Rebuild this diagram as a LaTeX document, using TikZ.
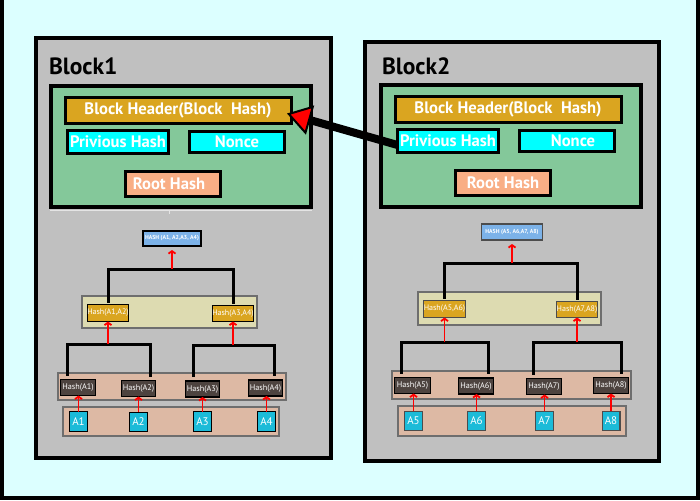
\documentclass[tikz,border=0pt]{standalone}
\usepackage{fontspec}
\setmainfont{PT Sans}
\usetikzlibrary{arrows.meta,calc}
\definecolor{bgc}{RGB}{220,255,255}
\definecolor{blockgray}{RGB}{192,192,192}
\definecolor{hdrgreen}{RGB}{132,200,154}
\definecolor{gold}{RGB}{218,165,32}
\definecolor{fieldcyan}{RGB}{0,255,255}
\definecolor{rootsalmon}{RGB}{249,174,133}
\definecolor{topblue}{RGB}{124,178,232}
\definecolor{khaki}{RGB}{221,219,177}
\definecolor{peach}{RGB}{221,185,164}
\definecolor{bandline}{RGB}{110,110,110}
\definecolor{darkhash}{RGB}{77,67,63}
\definecolor{leafcyan}{RGB}{28,187,216}
\definecolor{faint}{RGB}{228,228,228}
\begin{document}
\begin{tikzpicture}[x=1pt,y=-1pt,
  box/.style={inner sep=0pt, outer sep=0pt, align=center},
  blockbox/.style={box, draw=black, line width=4pt, fill=blockgray},
  hdrbox/.style={box, draw=black, line width=4pt, fill=hdrgreen},
  fieldbox/.style={box, draw=black, line width=3pt, text=white, font=\fontsize{16.6}{18}\selectfont\bfseries},
  title/.style={box, anchor=base west, font=\fontsize{23.5}{26}\selectfont\bfseries},
  band/.style={box, draw=bandline, line width=1.5pt},
  tophash/.style={box, draw=black, line width=1.5pt, fill=topblue, text=white, font=\fontsize{5.8}{6}\selectfont\bfseries},
  pairhash/.style={box, draw=black, line width=1.2pt, fill=gold, text=white, font=\fontsize{8}{9}\selectfont},
  leafhash/.style={box, draw=black, line width=1.2pt, fill=darkhash, text=white, font=\fontsize{8.2}{9}\selectfont, minimum height=16pt},
  leaf/.style={box, draw=black, line width=1.2pt, fill=leafcyan, text=white, font=\fontsize{11}{12}\selectfont, minimum width=17.8pt, minimum height=19.5pt},
  bracket/.style={draw=black, line width=3pt},
  redarr/.style={draw=red, line width=1.8pt, -{Straight Barb[length=2.5pt,width=7pt]}},
]
\useasboundingbox (0,0) rectangle (700,500);
\fill[bgc] (0,0) rectangle (700,500);
\draw[line width=4pt] (2,0) -- (2,498) -- (698,498) -- (698,0);

% ---------- blocks ----------
\node[blockbox, minimum width=295pt, minimum height=420pt] (b1) at (183.5,248) {};
\node[blockbox, minimum width=294pt, minimum height=419pt] (b2) at (512,251.5) {};
\node[title] (t1lab) at (49,75) {Block1};
\node[title] (t2lab) at (382,75) {Block2};

% ---------- headers ----------
\node[hdrbox, minimum width=260pt, minimum height=121pt] (g1) at (181,146.5) {};
\node[hdrbox, minimum width=260pt, minimum height=122pt] (g2) at (511,146) {};
\draw[faint, line width=1pt] (50,210) -- (312,210);
\draw[faint, line width=1pt] (169,210) -- (169,214);

\node[fieldbox, fill=gold, minimum width=226pt, minimum height=25pt] (h1) at (178,110.5) {Block Header(Block~ Hash)};
\node[fieldbox, fill=fieldcyan, minimum width=101pt, minimum height=23pt] (p1) at (118,142) {Privious Hash};
\node[fieldbox, fill=fieldcyan, minimum width=95pt, minimum height=21pt] (n1) at (237,142) {Nonce};
\node[fieldbox, fill=rootsalmon, minimum width=95pt, minimum height=25pt] (r1) at (173,184) {Root Hash\hspace*{8pt}};

\node[fieldbox, fill=gold, minimum width=226pt, minimum height=25pt] (h2) at (508,109.5) {Block Header(Block~ Hash)};
\node[fieldbox, fill=fieldcyan, minimum width=101pt, minimum height=23pt] (p2) at (448,141) {Privious Hash};
\node[fieldbox, fill=fieldcyan, minimum width=95pt, minimum height=21pt] (n2) at (567,141) {\hspace*{12pt}Nonce};
\node[fieldbox, fill=rootsalmon, minimum width=95pt, minimum height=25pt] (r2) at (503,183) {Root Hash};

% ---------- Block1 Merkle tree ----------
\node[band, fill=khaki, minimum width=175pt, minimum height=32pt] (k1) at (169.5,312) {};
\node[band, fill=peach, minimum width=228pt, minimum height=27pt] (q1) at (172,386.5) {};
\node[band, fill=peach, minimum width=216pt, minimum height=29pt] (l1) at (171,421.5) {};

\node[tophash, minimum width=58pt, minimum height=15pt] (top1) at (172,238.5) {HASH (A1, A2,A3, A4)};
\node[pairhash, minimum width=39pt, minimum height=17pt] (h12) at (108,313) {Hash(A1,A2)};
\node[pairhash, minimum width=39pt, minimum height=16pt] (h34) at (233,313.5) {Hash(A3,A4)};
\node[leafhash, minimum width=35pt] (ha1) at (78,387.5) {Hash(A1)};
\node[leafhash, minimum width=34pt] (ha2) at (138.5,388.5) {Hash(A2)};
\node[leafhash, minimum width=34pt] (ha3) at (202.5,389) {Hash(A3)};
\node[leafhash, minimum width=34pt] (ha4) at (265.5,388) {Hash(A4)};
\node[leaf] (a1) at (78.5,421.5) {A1};
\node[leaf] (a2) at (138.5,422) {A2};
\node[leaf] (a3) at (202.5,421.5) {A3};
\node[leaf] (a4) at (266.5,421.5) {A4};

\coordinate (j0) at (170,269);
\coordinate (j1) at (109,344);
\coordinate (j2) at (234,345);
\draw[bracket] ([yshift=2pt]h12.north) |- (j0) -| ([yshift=2pt]h34.north);
\draw[bracket] ([shift={(7,-4)}]ha1.north west) |- (j1) -| ([shift={(-5,-4)}]ha2.north east);
\draw[bracket] ([shift={(8,-4)}]ha3.north west) |- (j2) -| ([shift={(-8,-4)}]ha4.north east);
\draw[redarr, shorten >=4pt] (j0 -| top1.south) -- (top1.south);
\draw[redarr] (j1 -| h12.south) -- (h12.south);
\draw[redarr] (j2 -| h34.south) -- (h34.south);
\foreach \i in {1,2,3,4} {
  \draw[redarr] (a\i.north) -- (a\i.north |- ha\i.south);
}

% ---------- Block2 Merkle tree ----------
\node[band, fill=khaki, minimum width=183pt, minimum height=33pt] (k2) at (509.5,308.5) {};
\node[band, fill=peach, minimum width=239pt, minimum height=28pt] (q2) at (511.5,385) {};
\node[band, fill=peach, minimum width=228pt, minimum height=30pt] (l2) at (512,421) {};

\node[tophash, draw=black!70, minimum width=61pt, minimum height=16pt] (top2) at (512,232) {HASH (A5, A6,A7, A8)};
\node[pairhash, draw=black!70, minimum width=42pt, minimum height=17pt] (h56) at (444.5,309) {Hash(A5,A6)};
\node[pairhash, draw=black!70, minimum width=41pt, minimum height=16pt] (h78) at (577,309.5) {Hash(A7,A8)};
\node[leafhash, minimum width=36pt] (ha5) at (412.5,385.5) {Hash(A5)};
\node[leafhash, minimum width=35pt] (ha6) at (476,386) {Hash(A6)};
\node[leafhash, minimum width=35pt] (ha7) at (544,386.5) {Hash(A7)};
\node[leafhash, minimum width=35pt] (ha8) at (611,385.5) {Hash(A8)};
\node[leaf, draw=black!70] (a5) at (413.5,421) {A5};
\node[leaf, draw=black!70] (a6) at (476.5,421) {A6};
\node[leaf, draw=black!70] (a7) at (544.5,421) {A7};
\node[leaf, draw=black!70] (a8) at (611,421) {A8};

\coordinate (k0) at (510,263);
\coordinate (k1j) at (445,342);
\coordinate (k2j) at (577,342);
\draw[bracket] ([yshift=2pt]h56.north) |- (k0) -| ([yshift=2pt]h78.north);
\draw[bracket] ([shift={(7,-4)}]ha5.north west) |- (k1j) -| ([shift={(-5,-4)}]ha6.north east);
\draw[bracket] ([shift={(7,-4)}]ha7.north west) |- (k2j) -| ([shift={(-7,-4)}]ha8.north east);
\draw[redarr, shorten >=4pt] (k0 -| top2.south) -- (top2.south);
\draw[redarr] (k1j -| h56.south) -- (h56.south);
\draw[redarr] (k2j -| h78.south) -- (h78.south);
\foreach \i in {5,6,7,8} {
  \draw[redarr] (a\i.north) -- (a\i.north |- ha\i.south);
}

% ---------- link between blocks ----------
\draw[line width=8pt, -{Triangle[length=24pt,width=30pt,fill=red,line width=2pt]}]
  ([shift={(0,4)}]p2.west) -- ([shift={(-4,3)}]h1.east);
\end{tikzpicture}
\end{document}
